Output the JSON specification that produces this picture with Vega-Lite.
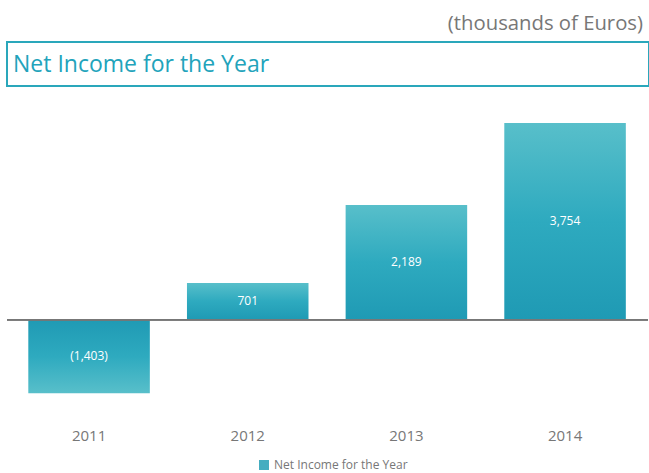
{
  "$schema": "https://vega.github.io/schema/vega-lite/v6.json",
  "padding": {"left": 6, "top": 13, "right": 0, "bottom": 5},
  "background": "white",
  "config": {"view": {"stroke": null}, "font": "Open Sans"},
  "title": {"text": "(thousands of Euros)", "anchor": "end", "fontSize": 20.3, "color": "#777777", "font": "Open Sans", "fontWeight": "normal", "dx": -7, "dy": -3},
  "spacing": 23,
  "vconcat": [
    {
      "width": 642,
      "height": 44,
      "view": {"stroke": "#2aa7bb", "strokeWidth": 2},
      "title": {"text": "Net Income for the Year", "orient": "top", "anchor": "start", "frame": "group", "offset": -53, "baseline": "alphabetic", "fontSize": 23, "color": "#22a3bb", "fontWeight": "normal", "font": "Open Sans", "dx": 6},
      "data": {"values": [{"label": ""}]},
      "mark": {"type": "text"},
      "encoding": {"text": {"field": "label"}}
    },
    {
      "width": 641,
      "height": 304,
      "data": {"values": [
        {"year": "2011", "value": -1403, "series": "Net Income for the Year"},
        {"year": "2012", "value": 701, "series": "Net Income for the Year"},
        {"year": "2013", "value": 2189, "series": "Net Income for the Year"},
        {"year": "2014", "value": 3754, "series": "Net Income for the Year"}
      ]},
      "encoding": {
        "x": {"field": "year", "type": "nominal", "scale": {"paddingInner": 0.234, "paddingOuter": 0.137, "align": 0.49},
              "axis": {"title": null, "domain": false, "ticks": false, "labelAngle": 0, "labelFontSize": 15, "labelColor": "#777777", "labelPadding": 14}}
      },
      "layer": [
        {
          "transform": [{"filter": "datum.value >= 0"}],
          "mark": {"type": "bar", "fill": {"gradient": "linear", "x1": 0, "y1": 0, "x2": 0, "y2": 1, "stops": [{"offset": 0, "color": "#58bfca"}, {"offset": 0.5, "color": "#2eaabf"}, {"offset": 1, "color": "#1f9ab4"}]}},
          "encoding": {"y": {"field": "value", "type": "quantitative", "scale": {"domain": [-1800, 4000], "nice": false}, "axis": null}}
        },
        {
          "transform": [{"filter": "datum.value < 0"}],
          "mark": {"type": "bar", "fill": {"gradient": "linear", "x1": 0, "y1": 0, "x2": 0, "y2": 1, "stops": [{"offset": 0, "color": "#1f9ab4"}, {"offset": 0.5, "color": "#2eaabf"}, {"offset": 1, "color": "#58bfca"}]}},
          "encoding": {"y": {"field": "value", "type": "quantitative"}}
        },
        {
          "mark": {"type": "square", "opacity": 0, "filled": true},
          "encoding": {
            "y": {"field": "value", "type": "quantitative"},
            "color": {"field": "series", "type": "nominal", "scale": {"range": ["#45adc0"]},
                      "legend": {"title": null, "orient": "none", "legendX": 251, "legendY": 417, "padding": 0, "direction": "horizontal", "symbolType": "square", "symbolSize": 100, "symbolOpacity": 1, "symbolStrokeWidth": 0, "labelFontSize": 12, "labelColor": "#777777", "labelFont": "Open Sans"}}
          }
        },
        {
          "mark": {"type": "rule", "color": "#777777", "strokeWidth": 1.5},
          "encoding": {"y": {"datum": 0, "type": "quantitative"}, "x": null}
        },
        {
          "transform": [{"calculate": "datum.value / 2", "as": "mid"}],
          "mark": {"type": "text", "color": "white", "fontSize": 12, "font": "Open Sans"},
          "encoding": {
            "y": {"field": "mid", "type": "quantitative"},
            "text": {"field": "value", "type": "quantitative", "format": "(,"}
          }
        }
      ]
    }
  ]
}
